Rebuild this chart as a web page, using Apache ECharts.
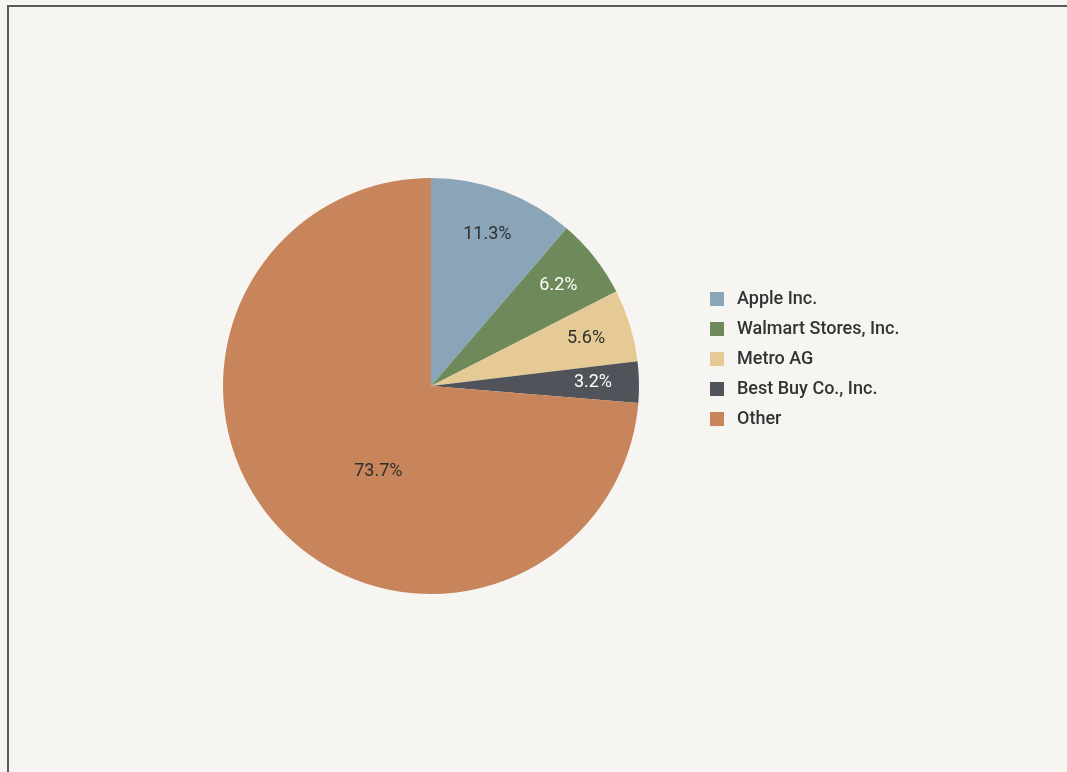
<!DOCTYPE html>
<html>
<head>
<meta charset="utf-8">
<script src="https://cdn.jsdelivr.net/npm/echarts@6/dist/echarts.min.js"></script>
<style>
  html, body { margin: 0; padding: 0; background: #f6f5f1; }
  #frame {
    position: absolute; left: 7px; top: 5px; width: 1070px; height: 780px;
    border-top: 2px solid #5a5a5a; border-left: 2px solid #5a5a5a;
  }
  #chart { position: absolute; left: 0; top: 0; width: 1067px; height: 772px; }
</style>
</head>
<body>
<div id="frame"></div>
<div id="chart"></div>
<script>
  const companies = ["Apple Inc.", "Walmart Stores, Inc.", "Metro AG", "Best Buy Co., Inc.", "Other"];
  const shares = [11.3, 6.2, 5.6, 3.2, 73.7];

  const sliceColors = ["#8aa4b8", "#6e8a5b", "#e6ca96", "#505359", "#c8845a"];
  const labelColors = ["#2f2f2f", "#ffffff", "#2f2f2f", "#ffffff", "#2f2f2f"];
  const font = "Roboto, sans-serif";

  const myChart = echarts.init(document.getElementById("chart"));

  const pieData = companies.map((name, i) => ({
    name: name,
    value: shares[i],
    itemStyle: { color: sliceColors[i] },
  }));

  myChart.setOption({
    backgroundColor: "transparent",
    animation: false,
    legend: {
      orient: "vertical",
      left: 705,
      top: 285,
      itemWidth: 14,
      itemHeight: 14,
      itemGap: 12,
      icon: "rect",
      data: companies,
      textStyle: {
        fontFamily: font,
        fontSize: 18,
        fontWeight: 500,
        color: "#333",
        padding: [0, 0, 0, 8],
      },
    },
    series: [
      {
        // main slices, only "Other" labelled here
        type: "pie",
        center: [431, 386],
        radius: [0, 208],
        startAngle: 90,
        clockwise: true,
        silent: true,
        data: pieData.map((d, i) => ({
          ...d,
          label: {
            show: i === 4,
            color: labelColors[i],
            offset: [26, 13],
          },
        })),
        label: {
          position: "inside",
          formatter: "{c}%",
          fontFamily: font,
          fontSize: 18,
        },
        labelLine: { show: false },
      },
      {
        // transparent ring to push the small-slice labels outwards
        type: "pie",
        center: [431, 386],
        radius: [106, 212],
        startAngle: 90,
        clockwise: true,
        silent: true,
        data: companies.map((name, i) => ({
          name: name,
          value: shares[i],
          itemStyle: { color: "transparent" },
          label: { show: i !== 4, color: labelColors[i] },
        })),
        label: {
          position: "inside",
          formatter: "{c}%",
          fontFamily: font,
          fontSize: 18,
        },
        labelLine: { show: false },
      },
    ],
  });
</script>
</body>
</html>
